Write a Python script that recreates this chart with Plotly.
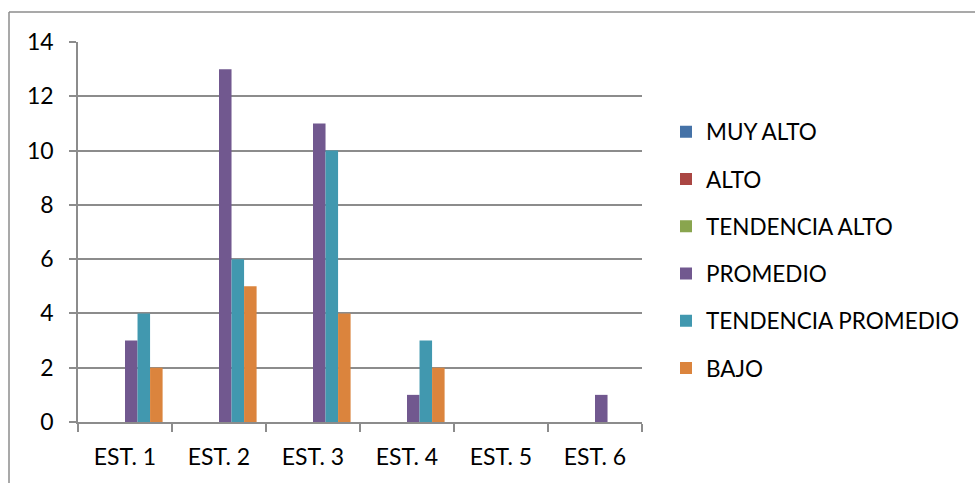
import plotly.graph_objects as go

categories = ["EST. 1", "EST. 2", "EST. 3", "EST. 4", "EST. 5", "EST. 6"]
series_names = ["MUY ALTO", "ALTO", "TENDENCIA ALTO", "PROMEDIO", "TENDENCIA PROMEDIO", "BAJO"]
muy_alto = [0, 0, 0, 0, 0, 0]
alto = [0, 0, 0, 0, 0, 0]
tendencia_alto = [0, 0, 0, 0, 0, 0]
promedio = [3, 13, 11, 1, 0, 1]
tendencia_promedio = [4, 6, 10, 3, 0, 0]
bajo = [2, 5, 4, 2, 0, 0]
y_ticks = [0, 2, 4, 6, 8, 10, 12, 14]

series_values = [muy_alto, alto, tendencia_alto, promedio, tendencia_promedio, bajo]
colors = ["#4572A7", "#AA4643", "#89A54E", "#71588F", "#4198AF", "#DB843D"]

FONT = "Lato"
GRID = "#8c8c8c"

fig = go.Figure()
for name, vals, col in zip(series_names, series_values, colors):
    fig.add_trace(go.Bar(
        x=categories, y=vals, name=name, legendgroup=name,
        marker=dict(color=col, line=dict(width=0)),
    ))

# plot area in pixels: left 78, right 642, top 42, bottom 422
W, H = 975, 483
L, R, T, B = 78, 642, 42, 422
pw, ph = R - L, B - T

def px_x(p):
    return (p - L) / pw

def px_y(p):
    return (B - p) / ph

fig.update_layout(
    width=W, height=H,
    margin=dict(l=L, r=W - R, t=T, b=H - B, pad=0, autoexpand=False),
    paper_bgcolor="white", plot_bgcolor="white",
    font=dict(family=FONT, size=23, color="#000000"),
    barmode="group", bargap=0.2, bargroupgap=0,
    showlegend=True,
    legend=dict(
        x=px_x(666), xanchor="left", y=px_y(250), yanchor="middle",
        font=dict(family=FONT, size=22.5, color="#000000"),
        tracegroupgap=15, bgcolor="rgba(0,0,0,0)", borderwidth=0,
        itemclick=False,
    ),
    xaxis=dict(
        showgrid=False, showline=True, linecolor=GRID, linewidth=1.5,
        ticks="outside", tickson="boundaries", ticklen=8, tickcolor=GRID, tickwidth=1.5,
        ticklabelstandoff=14,
        tickfont=dict(family=FONT, size=23, color="#000000"),
        fixedrange=True,
    ),
    yaxis=dict(
        range=[0, 14], tickvals=y_ticks, ticktext=[str(v) for v in y_ticks],
        showgrid=True, gridcolor=GRID, gridwidth=1.5,
        showline=True, linecolor=GRID, linewidth=1.5,
        ticks="outside", ticklen=7, tickcolor=GRID, tickwidth=1.5,
        ticklabelstandoff=11,
        zeroline=False,
        tickfont=dict(family=FONT, size=23, color="#000000"),
        fixedrange=True,
    ),
)

# chart frame (left and top edges)
fig.add_shape(type="line", xref="paper", yref="paper",
              x0=px_x(9), x1=px_x(9), y0=px_y(12), y1=px_y(490),
              line=dict(color="#8c8c8c", width=1.5))
fig.add_shape(type="line", xref="paper", yref="paper",
              x0=px_x(9), x1=px_x(980), y0=px_y(12), y1=px_y(12),
              line=dict(color="#8c8c8c", width=1.5))

fig.write_html("out.html")
